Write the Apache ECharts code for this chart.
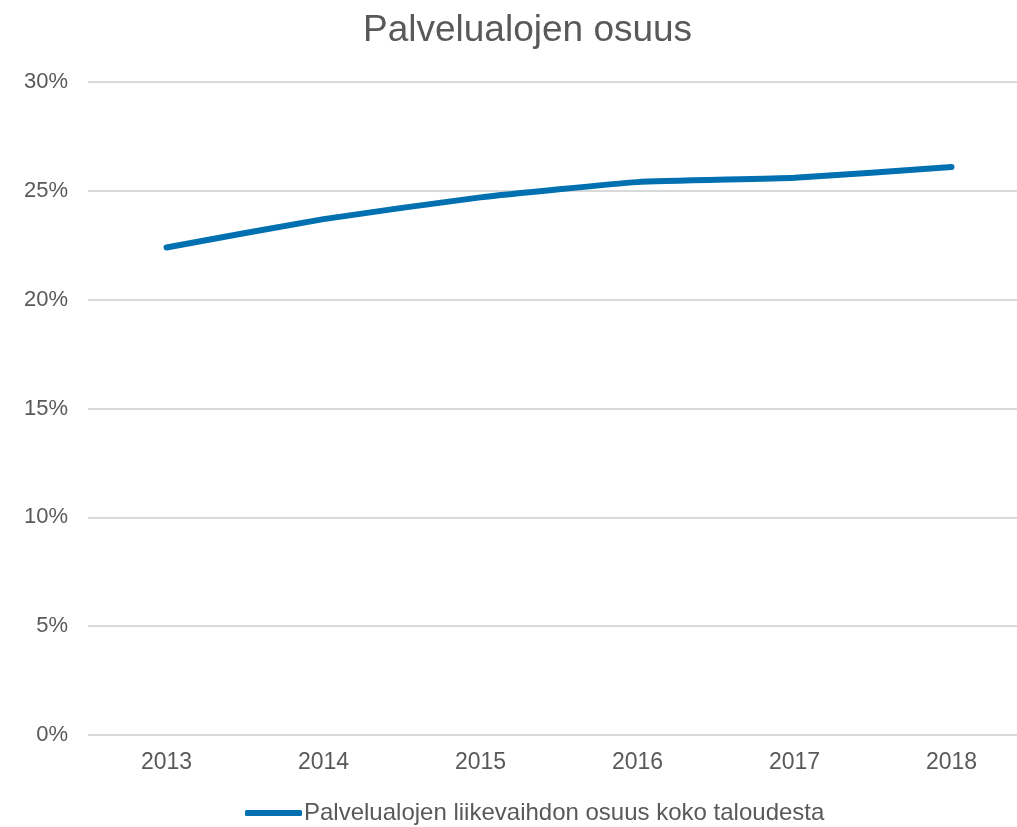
<!DOCTYPE html>
<html>
<head>
<meta charset="utf-8">
<script src="https://cdn.jsdelivr.net/npm/echarts@6/dist/echarts.min.js"></script>
<style>
html, body { margin: 0; padding: 0; background: #fff; }
#chart { width: 1017px; height: 827px; }
</style>
</head>
<body>
<div id="chart"></div>
<script>
var years = ['2013', '2014', '2015', '2016', '2017', '2018'];
var osuus = [22.4, 23.7, 24.7, 25.4, 25.6, 26.1];
var seriesName = 'Palvelualojen liikevaihdon osuus koko taloudesta';
var chartTitle = 'Palvelualojen osuus';

var dom = document.getElementById('chart');
var myChart = echarts.init(dom);
var option = {
    animation: false,
    textStyle: { fontFamily: 'Liberation Sans, Arial, sans-serif' },
    title: {
        text: chartTitle,
        left: 358,
        top: 7,
        textStyle: { color: '#595959', fontSize: 37, fontWeight: 'normal' }
    },
    legend: {
        data: [seriesName],
        bottom: -3,
        left: 240,
        itemWidth: 57,
        itemHeight: 6,
        itemGap: 4,
        icon: 'roundRect',
        textStyle: { color: '#595959', fontSize: 24, padding: [0, 0, 0, -3] }
    },
    grid: {
        left: 88,
        width: 942,
        top: 82,
        bottom: 92,
        outerBoundsMode: 'none',
        containLabel: false
    },
    xAxis: {
        type: 'category',
        data: years,
        boundaryGap: true,
        axisLine: { show: false },
        axisTick: { show: false },
        axisLabel: { color: '#595959', fontSize: 23, margin: 16 }
    },
    yAxis: {
        type: 'value',
        min: 0,
        max: 30,
        interval: 5,
        axisLine: { show: false },
        axisTick: { show: false },
        splitLine: { lineStyle: { color: '#d9d9d9', width: 2 } },
        axisLabel: {
            color: '#595959',
            fontSize: 22,
            margin: 20,
            formatter: function (v) { return v + '%'; }
        }
    },
    series: [
        {
            name: seriesName,
            type: 'line',
            data: osuus,
            showSymbol: false,
            symbol: 'none',
            smooth: 0.15,
            lineStyle: { color: '#0070b0', width: 6, cap: 'round' },
            itemStyle: { color: '#0070b0' }
        }
    ]
};
if (option && typeof option === 'object') {
    myChart.setOption(option, true);
}
</script>
</body>
</html>
